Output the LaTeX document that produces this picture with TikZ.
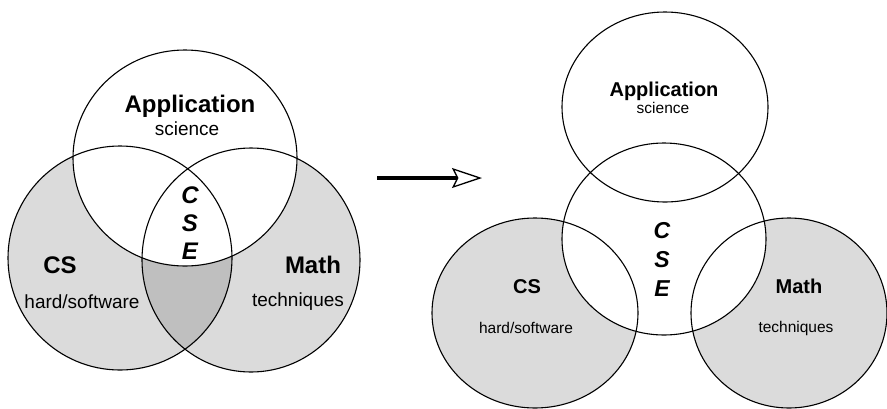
\documentclass[tikz,border=0pt]{standalone}
\usepackage{fontspec}
\setmainfont{Liberation Sans}
\usetikzlibrary{arrows.meta}
\definecolor{lightshade}{gray}{0.86}
\definecolor{darkshade}{gray}{0.75}

\begin{document}
\begin{tikzpicture}
    [
        x=1pt, y=-1pt,
        ring/.style = {draw, line width=1.1pt},
        bigtitle/.style = {font=\fontsize{24}{24}\selectfont\bfseries},
        bigsub/.style = {font=\fontsize{19}{19}\selectfont},
        bigcse/.style = {font=\fontsize{24}{28}\selectfont\bfseries\itshape, align=center},
        smalltitle/.style = {font=\fontsize{20}{20}\selectfont\bfseries},
        smallsub/.style = {font=\fontsize{15.5}{15.5}\selectfont},
        smallcse/.style = {font=\fontsize{23}{29}\selectfont\bfseries\itshape, align=center},
    ]

    \useasboundingbox (0,0) rectangle (887,408);

    % left: overlapping circles
    \coordinate (appL) at (185,158);
    \coordinate (csL) at (120,258);
    \coordinate (mathL) at (251,260);

    \fill[lightshade] (csL) ellipse (112 and 112);
    \fill[lightshade] (mathL) ellipse (109 and 112);
    \begin{scope}
        \clip (csL) ellipse (112 and 112);
        \fill[darkshade] (mathL) ellipse (109 and 112);
    \end{scope}
    \fill[white] (appL) ellipse (112 and 108);

    \draw[ring] (appL) ellipse (112 and 108);
    \draw[ring] (csL) ellipse (112 and 112);
    \draw[ring] (mathL) ellipse (109 and 112);

    \node[bigtitle] (appTL) at (190,106) {Application};
    \node[bigsub] (appSL) at (187,129) {science};
    \node[bigcse] (cseL) at (190,223) {C\\S\\E};
    \node[bigtitle] (csTL) at (60,265) {CS};
    \node[bigsub] (csSL) at (82,302) {hard/software};
    \node[bigtitle] (mathTL) at (313,265) {Math};
    \node[bigsub] (mathSL) at (298,302) {techniques};

    % arrow
    \coordinate (arrS) at (377,178);
    \coordinate (arrE) at (482,178);
    \draw[line width=3.5pt, -{Stealth[open, length=30pt, width=20pt, inset=5pt, line width=1.3pt]}] (arrS) -- (arrE);

    % right: CSE in the middle
    \coordinate (appR) at (665,107);
    \coordinate (cseR) at (664,239);
    \coordinate (csR) at (535,313);
    \coordinate (mathR) at (789,313);

    \fill[lightshade] (csR) ellipse (103 and 95);
    \fill[lightshade] (mathR) ellipse (98 and 95);
    \fill[white] (cseR) ellipse (102 and 96);

    \draw[ring] (appR) ellipse (103 and 95);
    \draw[ring] (cseR) ellipse (102 and 96);
    \draw[ring] (csR) ellipse (103 and 95);
    \draw[ring] (mathR) ellipse (98 and 95);

    \node[smalltitle] (appTR) at (664,91) {Application};
    \node[smallsub] (appSR) at (663,108) {science};
    \node[smallcse] (cseTR) at (662,259) {C\\S\\E};
    \node[smalltitle] (csTR) at (527,287) {CS};
    \node[smallsub] (csSR) at (526,328) {hard/software};
    \node[smalltitle] (mathTR) at (799,286) {Math};
    \node[smallsub] (mathSR) at (796,328) {techniques};
\end{tikzpicture}
\end{document}
